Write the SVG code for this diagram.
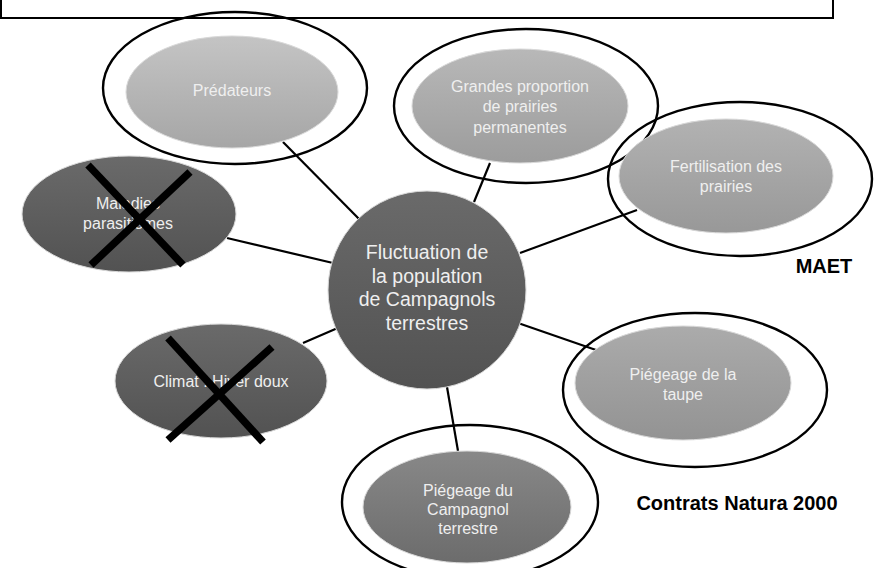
<svg xmlns="http://www.w3.org/2000/svg" width="881" height="568" viewBox="0 0 881 568">
<style>
.conn line{stroke:#000;stroke-width:2.2;fill:none}
.ring{fill:none;stroke:#000;stroke-width:2.4}
.cross{stroke:#000;stroke-width:7.5;stroke-linecap:butt}
.lbl{font-family:"Liberation Sans",Arial,sans-serif;font-size:16px;fill:#efefef;text-anchor:middle}
.big{font-family:"Liberation Sans",Arial,sans-serif;font-size:19.5px;fill:#efefef;text-anchor:middle}
.note{font-family:"Liberation Sans",Arial,sans-serif;font-size:20px;font-weight:bold;fill:#000;text-anchor:middle}
.edge{stroke:#d9d9d9;stroke-width:1}
</style>
<defs>
<linearGradient id="gDark" x1="0" y1="0" x2="0" y2="1">
<stop offset="0" stop-color="#6a6a6a"/><stop offset="1" stop-color="#525252"/>
</linearGradient>
<linearGradient id="gL1" x1="0" y1="0" x2="0" y2="1">
<stop offset="0" stop-color="#c4c4c4"/><stop offset="1" stop-color="#a6a6a6"/>
</linearGradient>
<linearGradient id="gL2" x1="0" y1="0" x2="0" y2="1">
<stop offset="0" stop-color="#b8b8b8"/><stop offset="1" stop-color="#9c9c9c"/>
</linearGradient>
<linearGradient id="gL3" x1="0" y1="0" x2="0" y2="1">
<stop offset="0" stop-color="#b2b2b2"/><stop offset="1" stop-color="#989898"/>
</linearGradient>
<linearGradient id="gL4" x1="0" y1="0" x2="0" y2="1">
<stop offset="0" stop-color="#ababab"/><stop offset="1" stop-color="#939393"/>
</linearGradient>
<linearGradient id="gM" x1="0" y1="0" x2="0" y2="1">
<stop offset="0" stop-color="#888888"/><stop offset="1" stop-color="#6c6c6c"/>
</linearGradient>
</defs>
<rect x="1" y="-5" width="832" height="23" fill="#fff" stroke="#000" stroke-width="2"/>
<g id="connectors" class="conn">
<line x1="283" y1="142" x2="362" y2="222"/>
<line x1="490" y1="163" x2="474" y2="202"/>
<line x1="637" y1="210" x2="520" y2="253"/>
<line x1="596" y1="350" x2="518" y2="323"/>
<line x1="458" y1="451" x2="447" y2="387"/>
<line x1="303" y1="343" x2="340" y2="327"/>
<line x1="227" y1="238" x2="333" y2="263"/>
</g>
<g id="center">
<circle cx="427" cy="290" r="99" fill="url(#gDark)" class="edge"/>
<text class="big"><tspan x="427" y="259">Fluctuation de</tspan><tspan x="427" y="283">la population</tspan><tspan x="427" y="306">de Campagnols</tspan><tspan x="427" y="330">terrestres</tspan></text>
</g>
<g id="predateurs">
<ellipse cx="232" cy="92" rx="106" ry="56" fill="url(#gL1)" class="edge"/>
<text class="lbl" x="232" y="96">Prédateurs</text>
<ellipse class="ring" cx="235" cy="88" rx="132" ry="76"/>
</g>
<g id="grandes">
<ellipse cx="520" cy="106" rx="108" ry="57" fill="url(#gL2)" class="edge"/>
<text class="lbl"><tspan x="520" y="92">Grandes proportion</tspan><tspan x="520" y="112">de prairies</tspan><tspan x="520" y="133">permanentes</tspan></text>
<ellipse class="ring" cx="526" cy="106" rx="132" ry="77"/>
</g>
<g id="fertilisation">
<ellipse cx="726" cy="176" rx="107" ry="57" fill="url(#gL3)" class="edge"/>
<text class="lbl"><tspan x="726" y="172">Fertilisation des</tspan><tspan x="726" y="192">prairies</tspan></text>
<ellipse class="ring" cx="740" cy="179" rx="132" ry="77"/>
</g>
<g id="taupe">
<ellipse cx="683" cy="383" rx="108" ry="57" fill="url(#gL4)" class="edge"/>
<text class="lbl"><tspan x="683" y="380">Piégeage de la</tspan><tspan x="683" y="400">taupe</tspan></text>
<ellipse class="ring" cx="695" cy="390" rx="132" ry="77"/>
</g>
<g id="campagnol">
<ellipse cx="467" cy="507" rx="104" ry="56" fill="url(#gM)" class="edge"/>
<text class="lbl"><tspan x="468" y="496">Piégeage du</tspan><tspan x="468" y="515">Campagnol</tspan><tspan x="468" y="534">terrestre</tspan></text>
<ellipse class="ring" cx="470" cy="502" rx="128" ry="77"/>
</g>
<g id="climat">
<ellipse cx="221" cy="381" rx="106" ry="57" fill="url(#gDark)" class="edge"/>
<text class="lbl" x="221" y="387">Climat : Hiver doux</text>
<line class="cross" x1="168" y1="338" x2="263" y2="442"/>
<line class="cross" x1="272" y1="347" x2="168" y2="440"/>
</g>
<g id="maladies">
<ellipse cx="129" cy="214" rx="107" ry="58" fill="url(#gDark)" class="edge"/>
<text class="lbl"><tspan x="128" y="209">Maladies</tspan><tspan x="128" y="229">parasitismes</tspan></text>
<line class="cross" x1="88" y1="165" x2="183" y2="265"/>
<line class="cross" x1="190" y1="172" x2="91" y2="265"/>
</g>
<text class="note" x="824" y="273">MAET</text>
<text class="note" x="737" y="510">Contrats Natura 2000</text>
</svg>
